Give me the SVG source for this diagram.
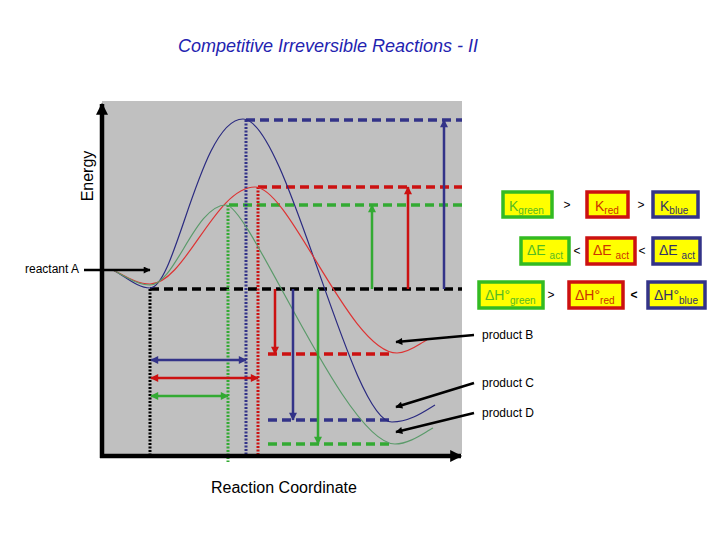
<svg xmlns="http://www.w3.org/2000/svg" width="720" height="540" viewBox="0 0 720 540">
<style>
text{font-family:"Liberation Sans",Arial,sans-serif}
.lbl{font-size:12px;fill:#000}
.dash{fill:none;stroke-width:3.5;stroke-dasharray:9 5}
.dot{fill:none;stroke-width:3;stroke-dasharray:2 1.5}
.arr{fill:none;stroke-width:2.5}
.curve{fill:none;stroke-width:1.2}
.box{stroke-width:3.5}
.bt{font-size:14px}
.sub{font-size:10px}
.sym{font-size:12px;fill:#000}
</style>
<defs>
<marker id="hb" viewBox="0 0 10 10" refX="9" refY="5" markerUnits="userSpaceOnUse" markerWidth="9" markerHeight="8" orient="auto-start-reverse"><path d="M0,0 L10,5 L0,10 z" fill="#333388"/></marker>
<marker id="hr" viewBox="0 0 10 10" refX="9" refY="5" markerUnits="userSpaceOnUse" markerWidth="9" markerHeight="8" orient="auto-start-reverse"><path d="M0,0 L10,5 L0,10 z" fill="#cc1111"/></marker>
<marker id="hg" viewBox="0 0 10 10" refX="9" refY="5" markerUnits="userSpaceOnUse" markerWidth="9" markerHeight="8" orient="auto-start-reverse"><path d="M0,0 L10,5 L0,10 z" fill="#33aa33"/></marker>
<marker id="hk" viewBox="0 0 10 10" refX="9" refY="5" markerUnits="userSpaceOnUse" markerWidth="12" markerHeight="7" orient="auto"><path d="M0,0 L10,5 L0,10 z" fill="#000"/></marker>
<marker id="hax" viewBox="0 0 10 10" refX="9" refY="5" markerUnits="userSpaceOnUse" markerWidth="14" markerHeight="12" orient="auto"><path d="M0,0 L10,5 L0,10 z" fill="#000"/></marker>
</defs>
<rect width="720" height="540" fill="#fff"/>
<g id="title"><text x="178" y="52" font-size="18" font-style="italic" fill="#2323b0">Competitive Irreversible Reactions - II</text></g>
<g id="panel"><rect x="102" y="101" width="360" height="353" fill="#c0c0c0"/></g>
<g id="levels">
<path class="dash" stroke="#000" d="M150,289 H462"/>
<path class="dash" stroke="#333388" d="M246,120 H462"/>
<path class="dash" stroke="#cc1111" d="M258,187 H462"/>
<path class="dash" stroke="#33aa33" d="M229,205 H462"/>
<path class="dash" stroke="#cc1111" d="M268,354 H392"/>
<path class="dash" stroke="#333388" d="M268,420 H392"/>
<path class="dash" stroke="#33aa33" d="M268,444 H392"/>
<path class="dot" stroke="#000" d="M150,289 V456"/>
<path class="dot" stroke="#33aa33" d="M228,205 V462"/>
<path class="dot" stroke="#333388" d="M246,120 V456"/>
<path class="dot" stroke="#cc1111" d="M258,187 V456"/>
</g>
<g id="curves">
<path class="curve" stroke="#2a2a80" d="M113,270 C125,276 137,288 150,288 C176,288 200,119 243,119 C287,119 350,422 392,422 C410,422 425,411 435,405"/>
<path class="curve" stroke="#dd3333" d="M113,270 C125,276 137,284 150,284 C185,284 215,187 255,187 C290,187 350,353 397,353 C410,353 420,343 427,340"/>
<path class="curve" stroke="#5a9a6a" d="M113,270 C125,276 137,285 150,285 C175,285 195,205 226,205 C250,205 345,444 395,444 C410,444 425,432 433,428"/>
</g>
<g id="connectors">
<path class="arr" stroke="#33aa33" marker-end="url(#hg)" d="M372,289 V205"/>
<path class="arr" stroke="#cc1111" marker-end="url(#hr)" d="M408,289 V187"/>
<path class="arr" stroke="#333388" marker-end="url(#hb)" d="M444,289 V120"/>
<path class="arr" stroke="#cc1111" marker-end="url(#hr)" d="M275,289 V354"/>
<path class="arr" stroke="#333388" marker-end="url(#hb)" d="M293,289 V420"/>
<path class="arr" stroke="#33aa33" marker-end="url(#hg)" d="M318,289 V444"/>
<path class="arr" stroke="#333388" marker-start="url(#hb)" marker-end="url(#hb)" d="M151,360 H246"/>
<path class="arr" stroke="#cc1111" marker-start="url(#hr)" marker-end="url(#hr)" d="M151,378 H258"/>
<path class="arr" stroke="#33aa33" marker-start="url(#hg)" marker-end="url(#hg)" d="M151,396 H228"/>
<path stroke="#000" stroke-width="2.5" fill="none" marker-end="url(#hk)" d="M84,270 H150"/>
<path stroke="#000" stroke-width="2.5" fill="none" marker-end="url(#hk)" d="M474,335 L396,342"/>
<path stroke="#000" stroke-width="2.5" fill="none" marker-end="url(#hk)" d="M474,383 L396,407"/>
<path stroke="#000" stroke-width="2.5" fill="none" marker-end="url(#hk)" d="M474,413 L396,432"/>
</g>
<g id="axes">
<path stroke="#000" stroke-width="4.5" fill="none" marker-end="url(#hax)" d="M102,458 V104"/>
<path stroke="#000" stroke-width="4.5" fill="none" marker-end="url(#hax)" d="M100,456 H461"/>
</g>
<g id="labels">
<text x="93" y="176" font-size="16" text-anchor="middle" transform="rotate(-90 93 176)">Energy</text>
<text x="211" y="493" font-size="16">Reaction Coordinate</text>
<text class="lbl" x="25" y="273">reactant A</text>
<text class="lbl" x="482" y="339">product B</text>
<text class="lbl" x="482" y="387">product C</text>
<text class="lbl" x="482" y="417">product D</text>
</g>
<g id="k-green"><rect class="box" x="503" y="192" width="49" height="25" fill="#ffff00" stroke="#33bb22"/><text class="bt" x="509" y="211" fill="#55bb22">K<tspan class="sub" dy="3">green</tspan></text></g>
<g id="k-red"><rect class="box" x="587" y="192" width="41" height="25" fill="#ffff00" stroke="#cc1111"/><text class="bt" x="595" y="211" fill="#cc3300">K<tspan class="sub" dy="3">red</tspan></text></g>
<g id="k-blue"><rect class="box" x="653" y="192" width="45" height="25" fill="#ffff00" stroke="#333388"/><text class="bt" x="660" y="211" fill="#333366">K<tspan class="sub" dy="3">blue</tspan></text></g>
<g id="e-green"><rect class="box" x="521" y="238" width="48" height="26" fill="#ffff00" stroke="#33bb22"/><text class="bt" x="527" y="255" fill="#55bb22">ΔE <tspan class="sub" dy="4">act</tspan></text></g>
<g id="e-red"><rect class="box" x="587" y="238" width="48" height="26" fill="#ffff00" stroke="#cc1111"/><text class="bt" x="593" y="255" fill="#cc3300">ΔE <tspan class="sub" dy="4">act</tspan></text></g>
<g id="e-blue"><rect class="box" x="653" y="238" width="47" height="26" fill="#ffff00" stroke="#333388"/><text class="bt" x="659" y="255" fill="#333366">ΔE <tspan class="sub" dy="4">act</tspan></text></g>
<g id="h-green"><rect class="box" x="479" y="282" width="64" height="26" fill="#ffff00" stroke="#33bb22"/><text class="bt" x="485" y="300" fill="#55bb22">ΔH°<tspan class="sub" dy="4">green</tspan></text></g>
<g id="h-red"><rect class="box" x="569" y="282" width="54" height="26" fill="#ffff00" stroke="#cc1111"/><text class="bt" x="575" y="300" fill="#cc3300">ΔH°<tspan class="sub" dy="4">red</tspan></text></g>
<g id="h-blue"><rect class="box" x="648" y="282" width="57" height="26" fill="#ffff00" stroke="#333388"/><text class="bt" x="654" y="300" fill="#333366">ΔH°<tspan class="sub" dy="4">blue</tspan></text></g>
<g id="relations">
<text class="sym" x="567" y="209" text-anchor="middle">&gt;</text>
<text class="sym" x="641" y="209" text-anchor="middle">&gt;</text>
<text class="sym" x="577" y="255" text-anchor="middle">&lt;</text>
<text class="sym" x="642" y="255" text-anchor="middle">&lt;</text>
<text class="sym" x="551" y="299" text-anchor="middle">&gt;</text>
<text class="sym" x="634" y="299" text-anchor="middle" fill="#990000" font-weight="bold">&lt;</text>
</g>
</svg>
